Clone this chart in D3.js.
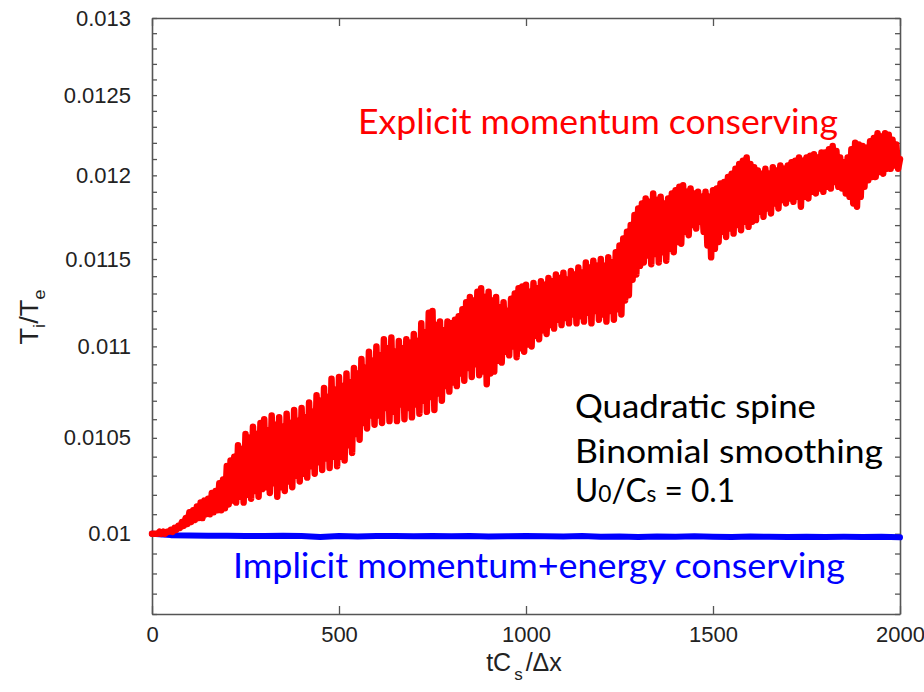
<!DOCTYPE html>
<html><head><meta charset="utf-8">
<script src="https://cdn.jsdelivr.net/npm/d3@7"></script>
<style>body{margin:0;background:#fff} svg{display:block}</style>
</head><body><svg id="c" width="924" height="692"></svg>
<script>
// ---- data ----
const xTicks = [0, 500, 1000, 1500, 2000];
const xTickLabels = ["0", "500", "1000", "1500", "2000"];
const yMajorTicks = [0.01, 0.0105, 0.011, 0.0115, 0.012, 0.0125, 0.013];
const yTickLabels = ["0.01", "0.0105", "0.011", "0.0115", "0.012", "0.0125", "0.013"];
const yDomain = [0.0096, 0.013];
const xDomain = [0, 2000];

// Explicit momentum conserving: T_i/T_e sampled every 5 time units (t = 0..2000)
const explicitStep = 5;
const explicitValues = [
0.01000,0.01000,0.01000,0.01000,0.01001,0.01000,0.01001,0.01000,0.01001,0.01001,0.01002,0.01001,0.01003,0.01002,0.01004,0.01003,0.01006,0.01004,0.01008,0.01005,
0.01011,0.01006,0.01012,0.01007,0.01014,0.01008,0.01016,0.01008,0.01017,0.01010,0.01018,0.01010,0.01021,0.01011,0.01022,0.01012,0.01026,0.01012,0.01028,0.01013,
0.01035,0.01015,0.01038,0.01017,0.01040,0.01016,0.01046,0.01019,0.01044,0.01016,0.01052,0.01020,0.01050,0.01018,0.01056,0.01022,0.01052,0.01019,0.01058,0.01023,
0.01060,0.01024,0.01054,0.01021,0.01062,0.01026,0.01057,0.01019,0.01061,0.01024,0.01056,0.01022,0.01063,0.01027,0.01058,0.01024,0.01065,0.01030,0.01059,0.01027,
0.01066,0.01031,0.01061,0.01029,0.01069,0.01035,0.01064,0.01031,0.01073,0.01037,0.01070,0.01033,0.01077,0.01039,0.01072,0.01034,0.01082,0.01040,0.01076,0.01035,
0.01083,0.01040,0.01078,0.01038,0.01085,0.01046,0.01080,0.01042,0.01088,0.01052,0.01085,0.01049,0.01093,0.01058,0.01088,0.01055,0.01097,0.01062,0.01092,0.01057,
0.01100,0.01062,0.01095,0.01058,0.01104,0.01066,0.01099,0.01059,0.01105,0.01064,0.01097,0.01059,0.01103,0.01068,0.01099,0.01060,0.01104,0.01066,0.01102,0.01061,
0.01107,0.01068,0.01103,0.01063,0.01113,0.01070,0.01108,0.01064,0.01119,0.01072,0.01120,0.01065,0.01112,0.01074,0.01114,0.01070,0.01109,0.01078,0.01114,0.01075,
0.01113,0.01080,0.01115,0.01078,0.01117,0.01085,0.01121,0.01081,0.01125,0.01088,0.01128,0.01083,0.01126,0.01090,0.01131,0.01084,0.01133,0.01086,0.01128,0.01079,
0.01131,0.01085,0.01126,0.01086,0.01128,0.01092,0.01122,0.01091,0.01125,0.01097,0.01120,0.01095,0.01127,0.01100,0.01130,0.01094,0.01133,0.01099,0.01134,0.01097,
0.01135,0.01101,0.01131,0.01100,0.01136,0.01106,0.01133,0.01104,0.01137,0.01109,0.01135,0.01107,0.01139,0.01112,0.01137,0.01110,0.01141,0.01115,0.01139,0.01112,
0.01142,0.01116,0.01138,0.01113,0.01143,0.01118,0.01141,0.01113,0.01145,0.01117,0.01142,0.01114,0.01148,0.01119,0.01145,0.01113,0.01149,0.01120,0.01146,0.01115,
0.01150,0.01118,0.01146,0.01114,0.01151,0.01120,0.01148,0.01115,0.01154,0.01121,0.01158,0.01118,0.01162,0.01126,0.01166,0.01129,0.01170,0.01138,0.01176,0.01141,
0.01180,0.01146,0.01183,0.01148,0.01186,0.01152,0.01184,0.01147,0.01189,0.01153,0.01185,0.01148,0.01187,0.01154,0.01183,0.01149,0.01186,0.01156,0.01189,0.01154,
0.01191,0.01160,0.01193,0.01159,0.01194,0.01166,0.01190,0.01164,0.01192,0.01170,0.01189,0.01168,0.01190,0.01172,0.01187,0.01166,0.01190,0.01158,0.01187,0.01151,
0.01191,0.01156,0.01192,0.01160,0.01195,0.01166,0.01196,0.01163,0.01199,0.01168,0.01201,0.01165,0.01204,0.01170,0.01207,0.01167,0.01209,0.01172,0.01211,0.01169,
0.01207,0.01172,0.01205,0.01173,0.01203,0.01178,0.01201,0.01175,0.01204,0.01180,0.01201,0.01177,0.01205,0.01183,0.01203,0.01180,0.01206,0.01185,0.01204,0.01183,
0.01206,0.01186,0.01208,0.01184,0.01209,0.01187,0.01211,0.01181,0.01209,0.01187,0.01211,0.01186,0.01212,0.01190,0.01213,0.01189,0.01211,0.01192,0.01214,0.01190,
0.01214,0.01193,0.01216,0.01192,0.01218,0.01196,0.01215,0.01193,0.01211,0.01192,0.01208,0.01189,0.01211,0.01187,0.01216,0.01183,0.01220,0.01181,0.01219,0.01187,
0.01218,0.01193,0.01217,0.01197,0.01221,0.01199,0.01223,0.01199,0.01226,0.01202,0.01224,0.01201,0.01226,0.01204,0.01225,0.01204,0.01222,0.01206,0.01219,0.01204,
0.01210
];

// Implicit momentum+energy conserving: sampled every 50 time units
const implicitStep = 50;
const implicitValues = [
0.010000,0.009993,0.009991,0.009990,0.009990,0.009989,0.009989,0.009990,0.009988,0.009984,
0.009988,0.009986,0.009989,0.009988,0.009987,0.009989,0.009987,0.009988,0.009986,0.009987,
0.009989,0.009987,0.009986,0.009988,0.009985,0.009986,0.009984,0.009986,0.009985,0.009987,
0.009985,0.009984,0.009986,0.009985,0.009983,0.009985,0.009984,0.009985,0.009984,0.009985,
0.009982
];

// ---- chart ----
const svg = d3.select("#c");
const x = d3.scaleLinear().domain(xDomain).range([152, 900]);
const y = d3.scaleLog().domain(yDomain).range([614, 18]);
const minorY = d3.range(96, 131).map(k => k / 10000);
const axisColor = "#555";
const tickFont = "'Liberation Sans', Arial, Helvetica, sans-serif";
const annFont = "Lato, 'Open Sans', sans-serif";

function styleAxis(g) {
  g.selectAll("path.domain").attr("stroke", axisColor).attr("stroke-width", 1.6);
  g.selectAll(".tick line").attr("stroke", axisColor).attr("stroke-width", 1.3);
  g.selectAll("text").attr("font-family", tickFont).attr("font-size", 22).attr("fill", "#222");
  g.attr("font-family", null).attr("font-size", null);
}
const yLabelFor = d => {
  const idx = yMajorTicks.findIndex(m => Math.abs(m - d) < 1e-9);
  return idx >= 0 ? yTickLabels[idx] : "";
};

svg.append("g").attr("transform", "translate(0,614)")
  .call(d3.axisBottom(x).tickValues(xTicks).tickFormat((d, i) => xTickLabels[i])
    .tickSizeInner(-8).tickSizeOuter(0).tickPadding(12)).call(styleAxis);
svg.append("g").attr("transform", "translate(0,18)")
  .call(d3.axisTop(x).tickValues(xTicks).tickFormat("")
    .tickSizeInner(-8).tickSizeOuter(0)).call(styleAxis);
svg.append("g").attr("transform", "translate(152,0)")
  .call(d3.axisLeft(y).tickValues(minorY).tickFormat(yLabelFor)
    .tickSizeInner(-5).tickSizeOuter(0).tickPadding(21)).call(styleAxis);
svg.append("g").attr("transform", "translate(900,0)")
  .call(d3.axisRight(y).tickValues(minorY).tickFormat("")
    .tickSizeInner(-5).tickSizeOuter(0)).call(styleAxis);

// lines
const implicitLine = d3.line().x((d, i) => x(i * implicitStep)).y(d => y(d));
const explicitLine = d3.line().x((d, i) => x(i * explicitStep)).y(d => y(d));
svg.append("path").datum(implicitValues).attr("d", implicitLine)
  .attr("fill", "none").attr("stroke", "#0000ff").attr("stroke-width", 6)
  .attr("stroke-linejoin", "round").attr("stroke-linecap", "round");
svg.append("path").datum(explicitValues).attr("d", explicitLine)
  .attr("fill", "none").attr("stroke", "#ff0000").attr("stroke-width", 6.5)
  .attr("stroke-linejoin", "round").attr("stroke-linecap", "round");

// annotations
svg.append("text").attr("x", 358).attr("y", 134).attr("font-family", annFont)
  .attr("font-size", 34).attr("fill", "#ff0000")
  .attr("textLength", 480).attr("lengthAdjust", "spacingAndGlyphs")
  .text("Explicit momentum conserving");
svg.append("text").attr("x", 233).attr("y", 578).attr("font-family", annFont)
  .attr("font-size", 35).attr("fill", "#0000ff")
  .attr("textLength", 612).attr("lengthAdjust", "spacingAndGlyphs")
  .text("Implicit momentum+energy conserving");
svg.append("text").attr("x", 575).attr("y", 418).attr("font-family", annFont)
  .attr("font-size", 32).attr("fill", "#000")
  .attr("textLength", 241).attr("lengthAdjust", "spacingAndGlyphs")
  .text("Quadratic spine");
svg.append("text").attr("x", 575).attr("y", 463).attr("font-family", annFont)
  .attr("font-size", 32).attr("fill", "#000")
  .attr("textLength", 308).attr("lengthAdjust", "spacingAndGlyphs")
  .text("Binomial smoothing");
const u = svg.append("text").attr("x", 575).attr("y", 502).attr("font-family", annFont)
  .attr("font-size", 32).attr("fill", "#000")
  .attr("textLength", 160).attr("lengthAdjust", "spacingAndGlyphs");
u.append("tspan").text("U");
u.append("tspan").attr("font-size", 23).text("0");
u.append("tspan").text("/C");
u.append("tspan").attr("font-size", 23).text("s");
u.append("tspan").text(" = 0.1");

// axis titles
const yt = svg.append("text").attr("transform", "translate(38,317) rotate(-90)")
  .attr("text-anchor", "middle").attr("font-family", tickFont).attr("font-size", 25).attr("fill", "#222")
  .attr("textLength", 55).attr("lengthAdjust", "spacingAndGlyphs");
yt.append("tspan").text("T");
yt.append("tspan").attr("font-size", 17).attr("dy", 7).text("i");
yt.append("tspan").attr("dy", -7).text("/T");
yt.append("tspan").attr("font-size", 17).attr("dy", 7).text("e");

const xt = svg.append("text").attr("x", 524).attr("y", 671)
  .attr("text-anchor", "middle").attr("font-family", tickFont).attr("font-size", 25).attr("fill", "#222");
xt.append("tspan").text("tC");
xt.append("tspan").attr("font-size", 17).attr("dy", 9).attr("dx", 3).text("s");
xt.append("tspan").attr("dy", -9).attr("dx", 3).text("/\u0394x");
</script></body></html>
